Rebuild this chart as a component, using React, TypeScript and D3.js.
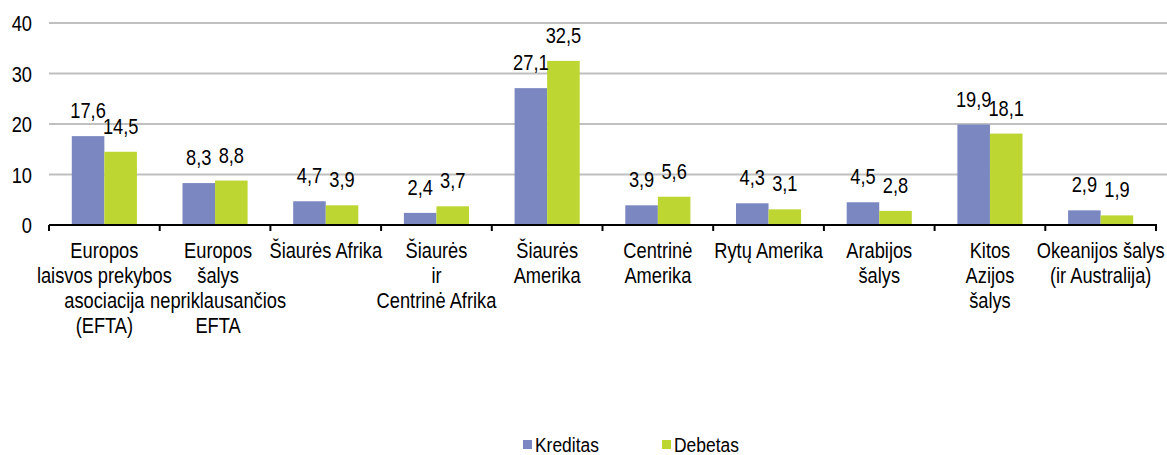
import * as d3 from 'd3'
import { useEffect } from 'react'

const WIDTH = 1167
const HEIGHT = 455

const CATEGORIES = [
  ['Europos', 'laisvos prekybos', 'asociacija', '(EFTA)'],
  ['Europos', 'šalys', 'nepriklausančios', 'EFTA'],
  ['Šiaurės Afrika'],
  ['Šiaurės', 'ir', 'Centrinė Afrika'],
  ['Šiaurės', 'Amerika'],
  ['Centrinė', 'Amerika'],
  ['Rytų Amerika'],
  ['Arabijos', 'šalys'],
  ['Kitos', 'Azijos', 'šalys'],
  ['Okeanijos šalys', '(ir Australija)'],
]
const KREDITAS = [17.6, 8.3, 4.7, 2.4, 27.1, 3.9, 4.3, 4.5, 19.9, 2.9]
const DEBETAS = [14.5, 8.8, 3.9, 3.7, 32.5, 5.6, 3.1, 2.8, 18.1, 1.9]
const SERIES = ['Kreditas', 'Debetas']
const Y_TICKS = [0, 10, 20, 30, 40]

const COLORS = ['#7b87c1', '#bdd631']
const FONT = '"Liberation Sans", Arial, sans-serif'
const SX = 0.83

const left = 49
const right = 1156
const top = 23
const bottom = 225

const fmt = (v: number) => v.toFixed(1).replace('.', ',')

function Txt({ x, y, anchor = 'middle', size = 22, children }: any) {
  return (
    <text
      transform={`translate(${x},${y}) scale(${SX},1)`}
      textAnchor={anchor}
      fontSize={size}
      fontFamily={FONT}
      fill="#000"
    >
      {children}
    </text>
  )
}

export default function App() {
  useEffect(() => {
    document.body.style.margin = '0'
  }, [])

  const idx = CATEGORIES.map((_, i) => i)
  const x0 = d3.scaleBand<number>().domain(idx).range([left, right]).padding(0)
  const x1 = d3.scaleBand<number>().domain([0, 1]).range([0, x0.bandwidth()]).paddingOuter(0.7).paddingInner(0)
  const y = d3.scaleLinear().domain([0, 40]).range([bottom, top])
  const data = [KREDITAS, DEBETAS]
  const boundaries = [...idx.map((i) => x0(i)!), right]

  return (
    <svg width={WIDTH} height={HEIGHT} style={{ display: 'block', background: '#fff' }}>
      {Y_TICKS.filter((t) => t > 0).map((t) => (
        <line key={t} x1={left} x2={WIDTH} y1={y(t)} y2={y(t)} stroke="#c0c0c0" strokeWidth={2} />
      ))}
      {Y_TICKS.map((t) => (
        <Txt key={t} x={32} y={y(t) + 8} anchor="end">
          {t}
        </Txt>
      ))}
      {data.map((vals, s) =>
        vals.map((v, i) => (
          <rect
            key={`${s}-${i}`}
            x={x0(i)! + x1(s)!}
            y={y(v)}
            width={x1.bandwidth()}
            height={y(0) - y(v)}
            fill={COLORS[s]}
          />
        )),
      )}
      {data.map((vals, s) =>
        vals.map((v, i) => (
          <Txt key={`l${s}-${i}`} x={x0(i)! + x1(s)! + x1.bandwidth() / 2} y={y(v) - 18}>
            {fmt(v)}
          </Txt>
        )),
      )}
      <line x1={left} x2={right + 1} y1={bottom} y2={bottom} stroke="#000" strokeWidth={2} />
      {boundaries.map((b, i) => (
        <line key={i} x1={b} x2={b} y1={bottom} y2={bottom + 6} stroke="#000" strokeWidth={2} />
      ))}
      {CATEGORIES.map((lines, i) =>
        lines.map((ln, j) => (
          <Txt key={`c${i}-${j}`} x={x0(i)! + x0.bandwidth() / 2 + (i === 1 ? 3 : 0)} y={258 + j * 25}>
            {ln}
          </Txt>
        )),
      )}
      {SERIES.map((name, s) => {
        const lx = s === 0 ? 523 : 662
        return (
          <g key={name}>
            <rect x={lx} y={440} width={9} height={9} fill={COLORS[s]} />
            <Txt x={lx + 12} y={452} anchor="start" size={21}>
              {name}
            </Txt>
          </g>
        )
      })}
    </svg>
  )
}
